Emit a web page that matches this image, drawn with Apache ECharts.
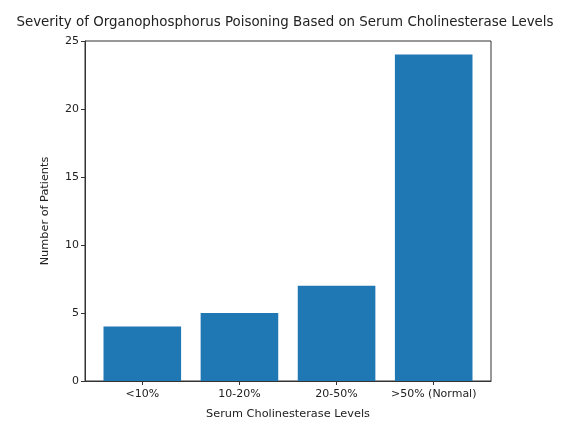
<!DOCTYPE html>
<html>
<head>
<meta charset="utf-8">
<script src="https://cdn.jsdelivr.net/npm/echarts@6/dist/echarts.min.js"></script>
<style>html,body{margin:0;padding:0;background:#fff;}#c{width:564px;height:425px;}</style>
</head>
<body>
<div id="c"></div>
<script>
const categories = ["<10%", "10-20%", "20-50%", ">50% (Normal)"];
const patients = [4, 5, 7, 24];
const yTicks = [0, 5, 10, 15, 20, 25];

const chart = echarts.init(document.getElementById('c'), null, {renderer: 'canvas'});
const font = 'DejaVu Sans';
chart.setOption({
  animation: false,
  backgroundColor: '#fff',
  title: {
    text: 'Severity of Organophosphorus Poisoning Based on Serum Cholinesterase Levels',
    left: 280, top: 11, textAlign: 'center',
    textStyle: {fontFamily: font, fontSize: 13.4, fontWeight: 'normal', color: '#222'}
  },
  grid: {left: 85, right: 73, top: 41, bottom: 39, show: true, borderColor: '#333', borderWidth: 1, backgroundColor: 'transparent'},
  xAxis: {
    type: 'value', min: -0.59, max: 3.59,
    name: 'Serum Cholinesterase Levels', nameLocation: 'middle', nameGap: 28,
    nameTextStyle: {fontFamily: font, fontSize: 11.3, color: '#222'},
    axisLine: {show: true, onZero: false, lineStyle: {color: '#333'}},
    axisTick: {show: true, length: 4, inside: false, customValues: [0,1,2,3], lineStyle: {color: '#333'}},
    axisLabel: {customValues: [0,1,2,3], margin: 8, fontFamily: font, fontSize: 11, color: '#222',
      formatter: v => categories[Math.round(v)] || ''},
    splitLine: {show: false}
  },
  yAxis: {
    type: 'value', min: 0, max: 25, interval: 5,
    name: 'Number of Patients', nameLocation: 'middle', nameGap: 34,
    nameTextStyle: {fontFamily: font, fontSize: 11.3, color: '#222'},
    axisLine: {show: true, onZero: false, lineStyle: {color: '#333'}},
    axisTick: {show: true, length: 4, lineStyle: {color: '#333'}},
    axisLabel: {margin: 6, fontFamily: font, fontSize: 11, color: '#222',
      formatter: v => yTicks.includes(v) ? String(v) : ''},
    splitLine: {show: false}
  },
  series: [{
    type: 'bar',
    barWidth: 77.6,
    itemStyle: {color: '#1f77b4'},
    data: patients.map((v, i) => [i, v])
  }]
});
</script>
</body>
</html>
